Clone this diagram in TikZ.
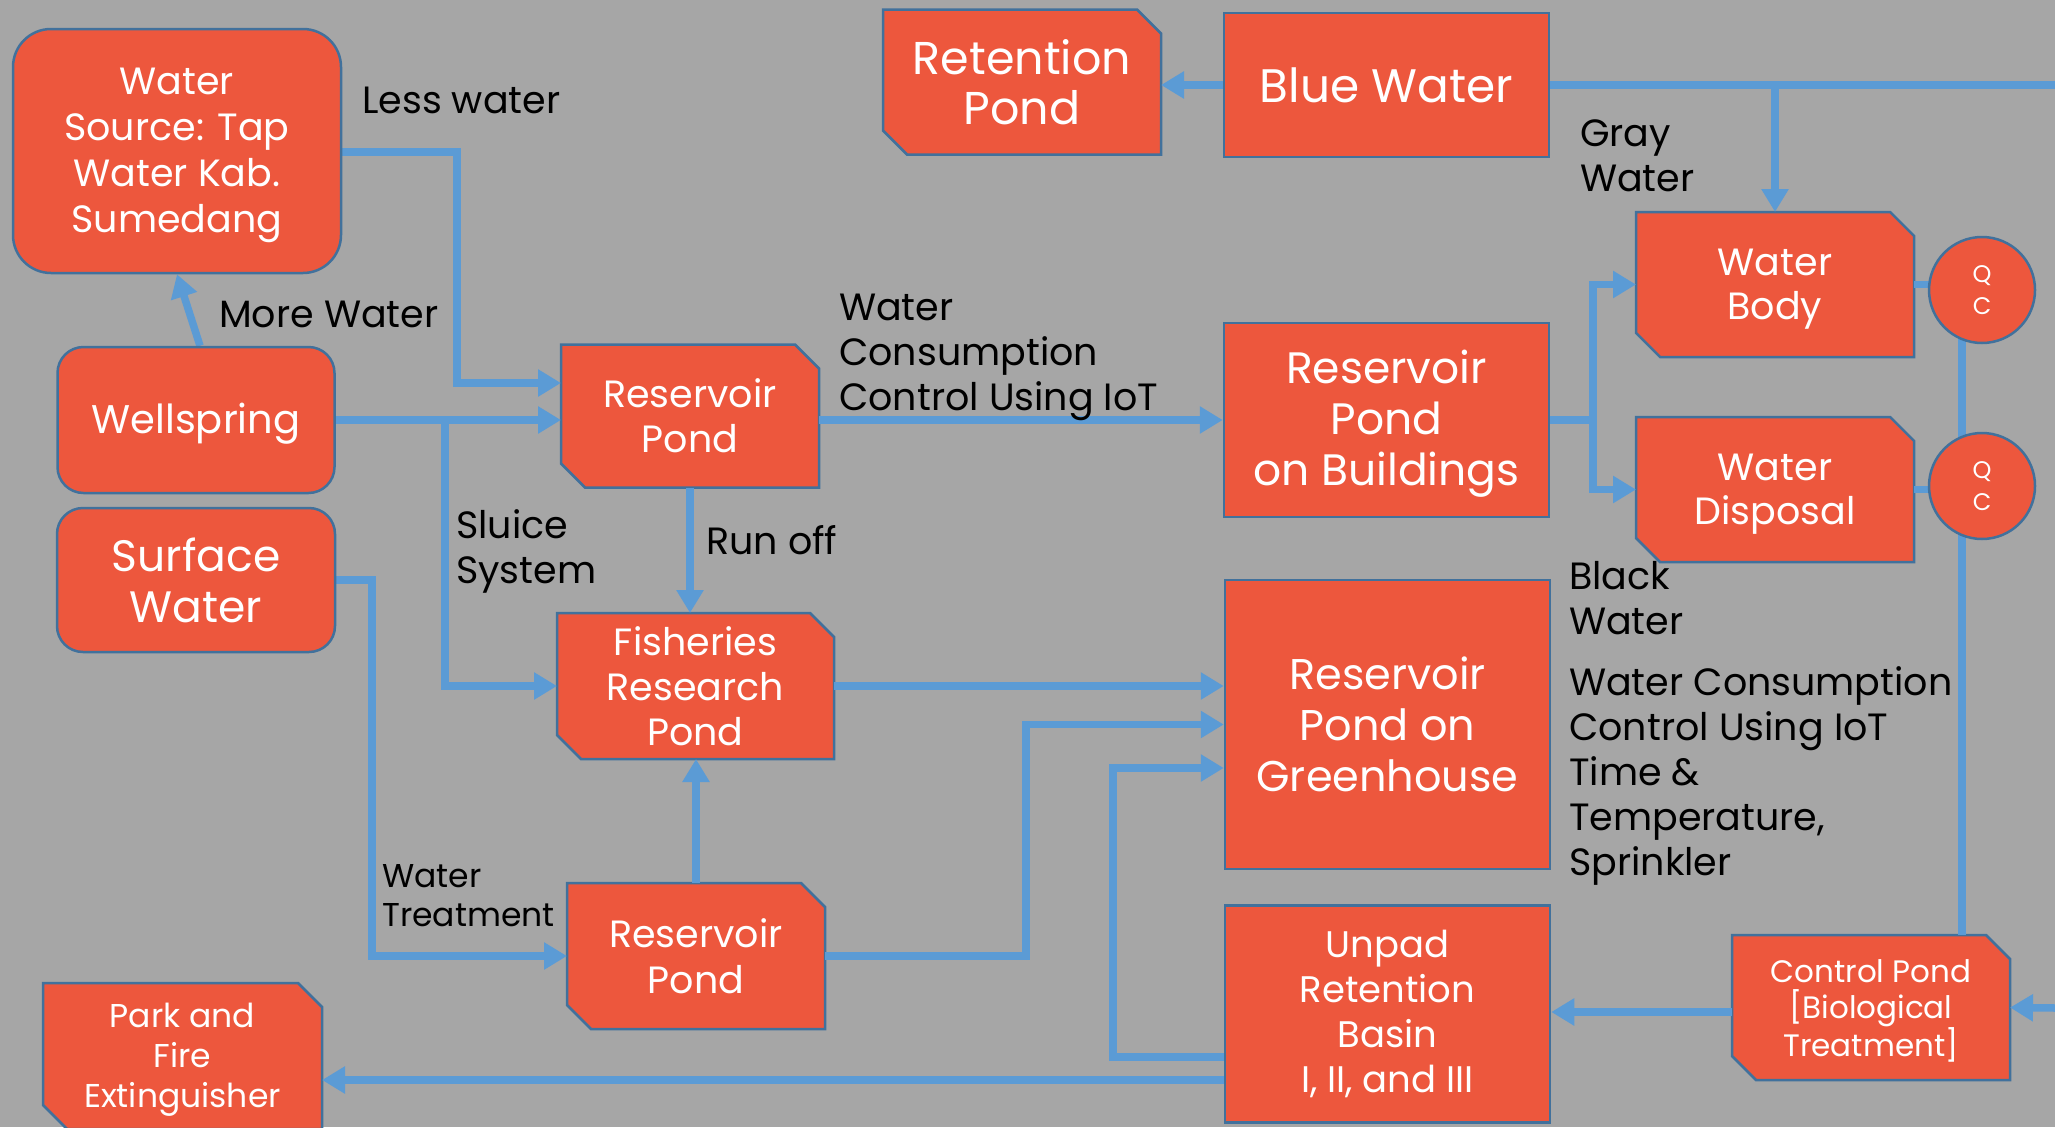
\documentclass[tikz,border=0pt]{standalone}
\usepackage{fontspec}
\setmainfont{Poppins}
\usetikzlibrary{arrows.meta,calc}
\definecolor{bgcol}{HTML}{A6A6A6}
\definecolor{boxfill}{HTML}{ED573D}
\definecolor{bordercol}{HTML}{41719C}
\definecolor{linecol}{HTML}{5B9BD5}
\pgfdeclarelayer{background}
\pgfdeclarelayer{conn}
\pgfsetlayers{background,conn,main}
\newcommand\fsz[2]{\fontsize{#1}{#2}\selectfont}
\newcommand\tup{\rule{0pt}{0.95em}}
\tikzset{
  basebox/.style={text=white, align=center, inner sep=0pt, line width=2.5pt},
  rbox/.style={basebox, rectangle, draw=bordercol, fill=boxfill},
  roundbox/.style={rbox, rounded corners=#1},
  snipbox/.style={basebox, rectangle, draw=none, fill=none, outer sep=0pt},
  snipshape/.style={fill=boxfill, draw=bordercol, line width=2.5pt, line join=miter},
  qc/.style={basebox, circle, draw=bordercol, fill=boxfill, minimum size=106pt, font=\fsz{24}{32}},
  flow/.style={draw=linecol, line width=7.5pt},
  arr/.style={flow, -{Triangle[length=23pt,width=26pt]}},
  lbl/.style={text=black, align=left, inner sep=0pt, font=\fsz{38}{45}},
  sz/.style 2 args={minimum width=#1pt, minimum height=#2pt},
}
\begin{document}
\begin{tikzpicture}[x=1pt,y=-1pt]
\useasboundingbox (0,0) rectangle (2055,1127);
% boxes
\node[roundbox=38pt, sz={328}{244}, font=\fsz{38}{46}] (ws) at (177,151) {\tup Water\\Source: Tap\\Water Kab.\\Sumedang};
\node[roundbox=26pt, sz={277}{146}, font=\fsz{40}{48}] (wsp) at (196,420) {\tup Wellspring};
\node[roundbox=26pt, sz={278}{144}, font=\fsz{44}{51}] (sw) at (196,580) {Surface\\Water};
\node[snipbox, sz={279}{146}, font=\fsz{33}{40}] (park) at (182.5,1056) {\tup Park and\\Fire\\Extinguisher};
\node[snipbox, sz={258}{143}, font=\fsz{38}{45}] (rp1) at (690,416) {Reservoir\\Pond};
\node[snipbox, sz={277}{146}, font=\fsz{38}{45}] (frp) at (695.5,686) {Fisheries\\Research\\Pond};
\node[snipbox, sz={258}{146}, font=\fsz{38}{46}] (rp2) at (696,956) {Reservoir\\Pond};
\node[snipbox, sz={278}{145}, font=\fsz{46}{50}] (ret) at (1022,82) {Retention\\Pond};
\node[rbox, sz={325}{144}, font=\fsz{47}{55}] (blue) at (1386.5,85) {Blue Water};
\node[rbox, sz={325}{194}, font=\fsz{44}{51}] (rpb) at (1386.5,420) {\tup Reservoir\\Pond\\on Buildings};
\node[rbox, sz={325}{289}, font=\fsz{43}{51}] (rpg) at (1387.5,724.5) {Reservoir\\Pond on\\Greenhouse};
\node[rbox, sz={325}{217}, font=\fsz{37}{45}] (urb) at (1387.5,1014) {Unpad\\Retention\\Basin\\I, II, and III};
\node[snipbox, sz={278}{145}, font=\fsz{38}{44}] (wb) at (1775,284.5) {\tup Water\\Body};
\node[snipbox, sz={278}{145}, font=\fsz{38}{44}] (wd) at (1775,489.5) {\tup Water\\Disposal};
\node[qc] (qc1) at (1982,290) {Q\\C};
\node[qc] (qc2) at (1982,486) {Q\\C};
\node[snipbox, sz={278}{145}, font=\fsz{31}{36}] (cp) at (1871,1007.5) {\tup Control Pond\\{}[Biological\\Treatment]};
% labels
\node[lbl, anchor=base west] (lLess) at (362,113) {Less water};
\node[lbl, anchor=base west] (lMore) at (219,327) {More Water};
\node[lbl, anchor=west] (lSluice) at (456,551) {Sluice\\System};
\node[lbl, anchor=base west] (lRun) at (706,554) {Run off};
\node[lbl, anchor=west] (lWCC) at (839,357) {Water\\Consumption\\Control Using IoT};
\node[lbl, anchor=west, font=\fsz{33}{39}] (lWT) at (382,896) {Water\\Treatment};
\node[lbl, anchor=west] (lGray) at (1580,156) {Gray\\Water};
\node[lbl, anchor=west] (lBlack) at (1569,598) {Black\\Water};
\node[lbl, anchor=west] (lIoT) at (1569,776) {Water Consumption\\Control Using IoT\\Time \&\\Temperature,\\Sprinkler};
% background and snipped boxes
\begin{pgfonlayer}{background}
\fill[bgcol] (0,0) rectangle (2055,1127);
\foreach \n in {park,rp1,frp,rp2,ret,wb,wd,cp}{
  \filldraw[snipshape] (\n.north west) -- ([xshift=-24pt]\n.north east) -- ([yshift=-24pt]\n.north east)
    -- (\n.south east) -- ([xshift=24pt]\n.south west) -- ([yshift=24pt]\n.south west) -- cycle;
}
\end{pgfonlayer}
% connectors
\begin{pgfonlayer}{conn}
\draw[arr] (ws.east |- 0,152) -| (457,383) -- (rp1.west |- 0,383);
\draw[arr] (wsp.east) -- (rp1.west |- wsp.east);
\coordinate (sl) at (445,420);
\draw[arr] (sl) |- (frp.west);
\draw[arr] (rp1.south) -- (rp1.south |- frp.north);
\draw[arr] (rp1.east |- rpb.west) -- (rpb.west);
\draw[arr] (blue.west) -- (ret.east |- blue.west);
\coordinate (edgeA) at (2055,85);
\draw[flow] (blue.east) -- (edgeA);
\draw[arr] (wb.north |- blue.east) -- (wb.north);
\coordinate (bj) at (1593,420);
\draw[flow] (rpb.east) -- (bj);
\draw[arr] (bj) |- (wb.west);
\draw[arr] (bj) |- (wd.west);
\draw[flow] (wb.east) -- (qc1.center |- wb.east);
\draw[flow] (wd.east) -- (qc2.center |- wd.east);
\draw[flow] ([xshift=-20pt]qc1.center) -- ([xshift=-20pt]qc1.center |- cp.north);
\coordinate (edgeB) at (2055,1008);
\draw[arr] (edgeB) -- (cp.east);
\draw[arr] (cp.west |- 0,1012) -- (urb.east |- 0,1012);
\draw[arr] (frp.east) -- (rpg.west |- frp.east);
\draw[arr] (rp2.east) -- (1026,956) |- (rpg.west);
\draw[arr] (urb.west |- 0,1057) -- (1113,1057) |- (rpg.west |- 0,768);
\draw[arr] (urb.west |- 0,1080) -- (park.east |- 0,1080);
\draw[arr] (rp2.north) -- (rp2.north |- frp.south);
\draw[arr] (sw.east) -- (372,580) |- (rp2.west);
\draw[arr] ([xshift=4pt]wsp.north) -- (ws.south);
\end{pgfonlayer}
\end{tikzpicture}
\end{document}
